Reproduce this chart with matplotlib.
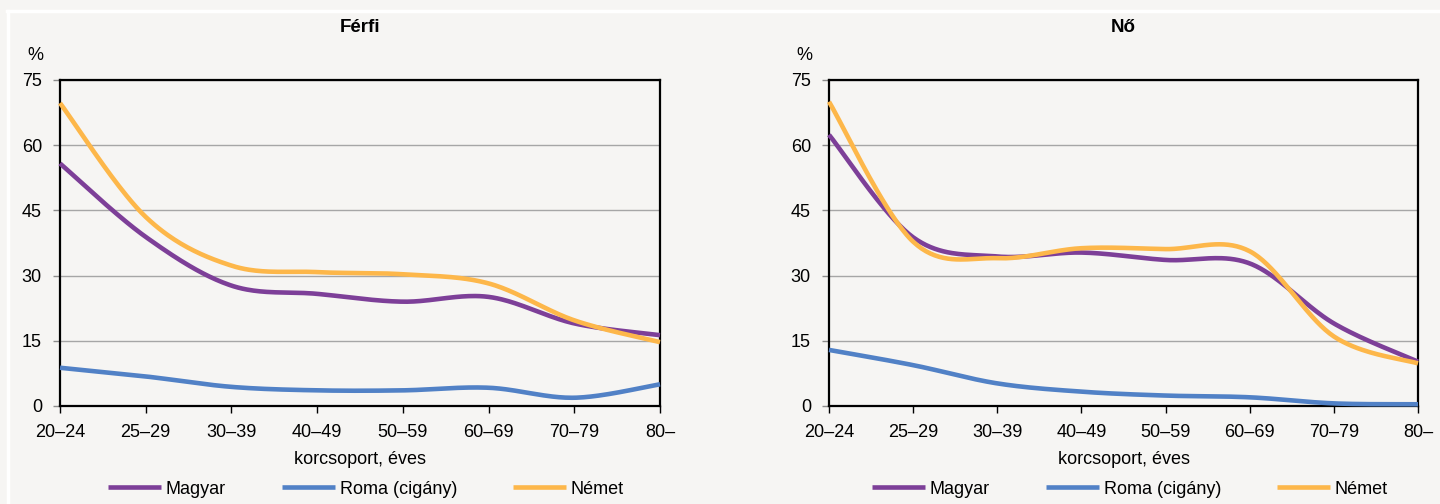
import numpy as np
import matplotlib
matplotlib.use('Agg')
import matplotlib.pyplot as plt
from matplotlib.lines import Line2D

categories = ['20–24', '25–29', '30–39', '40–49', '50–59', '60–69', '70–79', '80–']
series_names = ['Magyar', 'Roma (cigány)', 'Német']

ferfi_magyar = [55.8, 38.9, 27.7, 25.8, 24.0, 25.1, 19.0, 16.3]
ferfi_roma = [8.8, 6.8, 4.4, 3.6, 3.6, 4.2, 1.9, 5.0]
ferfi_nemet = [69.7, 43.5, 32.3, 30.8, 30.3, 28.2, 19.7, 14.7]

no_magyar = [62.4, 38.8, 34.4, 35.3, 33.6, 32.8, 19.0, 10.2]
no_roma = [12.9, 9.4, 5.2, 3.3, 2.4, 2.0, 0.6, 0.4]
no_nemet = [70.0, 37.8, 34.0, 36.3, 36.1, 35.6, 16.0, 9.8]

yticks = [0, 15, 30, 45, 60, 75]
colors = ['#7d3f98', '#5181c6', '#fdb74a']
BG = '#f6f5f3'

plt.rcParams['font.family'] = ['Liberation Sans', 'DejaVu Sans']
FS = 13


def smooth(x, y, n=40):
    """Excel-like smoothed line through the data points (Bezier / Catmull-Rom)."""
    x = np.asarray(x, float)
    y = np.asarray(y, float)
    P = np.column_stack([x, y])
    P_ext = np.vstack([P[0], P, P[-1]])
    out = []
    for i in range(len(P) - 1):
        p0, p1, p2, p3 = P_ext[i], P_ext[i + 1], P_ext[i + 2], P_ext[i + 3]
        c1 = p1 + (p2 - p0) / 6.0
        c2 = p2 - (p3 - p1) / 6.0
        t = np.linspace(0, 1, n)[:, None]
        seg = ((1 - t) ** 3) * p1 + 3 * ((1 - t) ** 2) * t * c1 + 3 * (1 - t) * t ** 2 * c2 + t ** 3 * p2
        if i > 0:
            seg = seg[1:]
        out.append(seg)
    out = np.vstack(out)
    return out[:, 0], out[:, 1]


W, H = 1440, 504
fig = plt.figure(figsize=(W / 100, H / 100), dpi=100, facecolor=BG)


def px_rect(l, r, t, b):
    return [l / W, 1 - b / H, (r - l) / W, (b - t) / H]


panels = [
    ('Férfi', px_rect(60, 660, 80, 406), [ferfi_magyar, ferfi_roma, ferfi_nemet], 0.51),
    ('Nő', px_rect(829, 1418, 80, 406), [no_magyar, no_roma, no_nemet], 0.511),
]

x = np.arange(len(categories))
for title, rect, data, lx in panels:
    ax = fig.add_axes(rect)
    ax.set_facecolor(BG)
    for vals, c, name in zip(data, colors, series_names):
        sx, sy = smooth(x, vals)
        ax.plot(sx, sy, color=c, lw=3.3, solid_capstyle='butt', label=name, zorder=3,
                clip_on=False)
    ax.set_xlim(0, len(categories) - 1)
    ax.set_ylim(0, 75)
    ax.set_yticks(yticks)
    ax.set_xticks(x)
    ax.set_xticklabels(categories)
    ax.yaxis.grid(True, color='#a6a6a6', lw=1.0)
    ax.set_axisbelow(True)
    for s in ax.spines.values():
        s.set_color('black')
        s.set_linewidth(1.6)
    ax.tick_params(axis='y', length=5, width=1.0, color='#8c8c8c', pad=8, labelsize=FS)
    ax.tick_params(axis='x', length=5, width=1.0, color='black', pad=8, labelsize=FS)
    ax.set_xlabel('korcsoport, éves', fontsize=FS, labelpad=7)
    ax.text(0.5, 1 + 52 / 326, title, transform=ax.transAxes, ha='center', va='center',
            fontsize=13.5, fontweight='bold')
    ax.annotate('%', xy=(0, 1), xycoords='axes fraction', xytext=(-25 * 0.72, 25 * 0.72),
                textcoords='offset points', ha='center', va='center', fontsize=FS)
    ax.legend(loc='center', bbox_to_anchor=(lx, -0.255), ncol=3, frameon=False,
              handlelength=2.95, handletextpad=0.25, columnspacing=3.1, fontsize=FS)

# white frame lines of the background
fig.add_artist(Line2D([7 / W, 1], [1 - 10.5 / H, 1 - 10.5 / H], color='white', lw=2.5))
fig.add_artist(Line2D([7.5 / W, 7.5 / W], [0, 1 - 10.5 / H], color='white', lw=2.5))

fig.savefig('out.png', dpi=100, facecolor=BG)
